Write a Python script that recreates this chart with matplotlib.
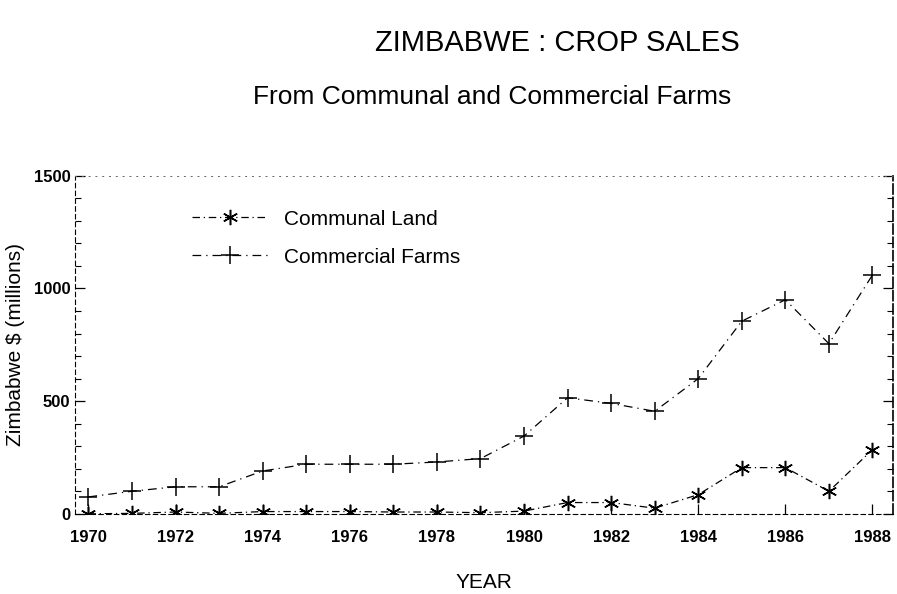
import numpy as np
import matplotlib.pyplot as plt
from matplotlib.ticker import MultipleLocator

plt.rcParams['font.family'] = ['Liberation Sans', 'DejaVu Sans']

years = list(range(1970, 1989))
communal = [0, 2, 8, 2, 10, 10, 10, 8, 8, 5, 12, 50, 50, 25, 85, 205, 205, 100, 285]
commercial = [75, 100, 120, 120, 190, 220, 220, 220, 230, 245, 345, 515, 490, 455, 600, 855, 950, 755, 1060]

fig = plt.figure(figsize=(8.97, 5.94), dpi=100)
ax = fig.add_axes([0.084, 0.135, 0.911, 0.569])

ax.plot(years, communal, color='black', lw=0.9, linestyle=(0, (6, 3, 1, 3)),
        marker=(6, 2, 0), markersize=11, markeredgewidth=1.1, label='Communal Land')
ax.plot(years, commercial, color='black', lw=0.9, linestyle=(0, (7, 4, 1, 4)),
        marker='+', markersize=13, markeredgewidth=1.1, label='Commercial Farms')

ax.set_xlim(1969.7, 1988.46)
ax.set_ylim(0, 1500)
ax.set_xticks(range(1970, 1989, 2))
ax.xaxis.set_minor_locator(MultipleLocator(1))
ax.set_yticks([0, 500, 1000, 1500])
ax.yaxis.set_minor_locator(MultipleLocator(100))
ax.tick_params(which='both', direction='in', right=True, top=False)
ax.tick_params(which='major', length=7, width=0.9, labelsize=12)
ax.tick_params(axis='x', which='major', pad=12)
ax.tick_params(which='minor', length=4, width=0.8)
ax.tick_params(axis='x', which='minor', length=0)
for lab in ax.get_xticklabels() + ax.get_yticklabels():
    lab.set_fontweight('bold')

for side in ['left', 'bottom']:
    ax.spines[side].set_linestyle((0, (4, 3)))
    ax.spines[side].set_linewidth(0.8)
ax.spines['top'].set_linestyle((0, (1, 6)))
ax.spines['top'].set_linewidth(0.7)
ax.spines['top'].set_color('#666666')
ax.spines['right'].set_linestyle((0, (6, 2)))
ax.spines['right'].set_linewidth(1.2)

ax.set_xlabel('YEAR', fontsize=15, labelpad=20)
ax.set_ylabel('Zimbabwe $ (millions)', fontsize=15, labelpad=6)

ax.legend(loc='upper left', bbox_to_anchor=(0.12, 0.955), frameon=False,
          fontsize=15, handlelength=3.6, labelspacing=0.9, handletextpad=0.8)

fig.text(0.621, 0.928, 'ZIMBABWE : CROP SALES', ha='center', va='center', fontsize=21)
fig.text(0.549, 0.836, 'From Communal and Commercial Farms', ha='center', va='center', fontsize=19)

fig.savefig('out.png', dpi=100)
